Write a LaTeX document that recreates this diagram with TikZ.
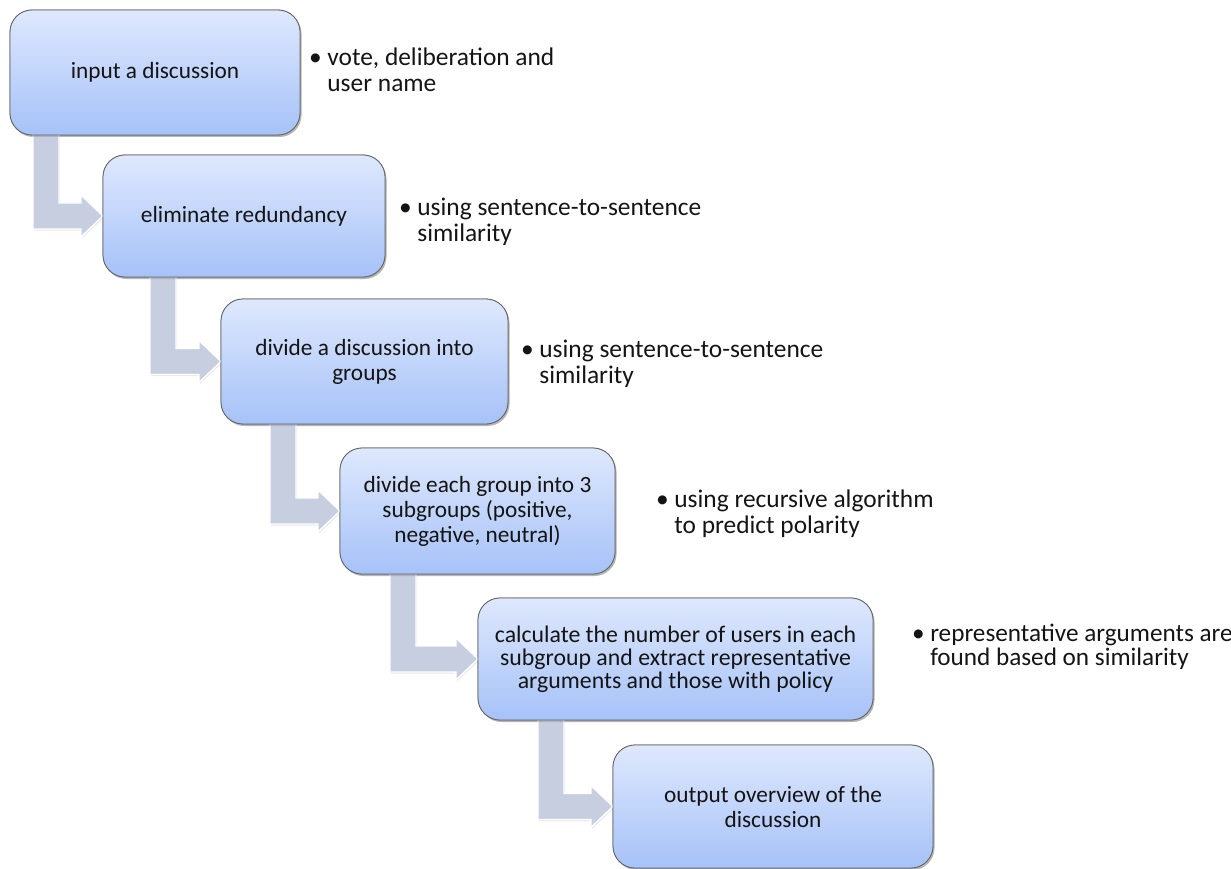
\documentclass[tikz,border=0pt]{standalone}
\usepackage{fontspec}
\setmainfont{Carlito}
\usetikzlibrary{calc,shadows}

\definecolor{boxtop}{RGB}{222,232,253}
\definecolor{boxbottom}{RGB}{166,194,248}
\definecolor{boxline}{RGB}{100,100,100}
\definecolor{arrowgray}{RGB}{198,206,224}
\definecolor{inktext}{RGB}{20,20,20}

\tikzset{
  stepbox/.style={rounded corners=22pt, draw=boxline, line width=0.8pt,
    top color=boxtop, bottom color=boxbottom, align=center,
    inner sep=4pt, outer sep=0pt, text=inktext,
    font=\fontsize{23.3}{25}\selectfont,
    drop shadow={opacity=0.35, shadow xshift=1.5pt, shadow yshift=-2pt}},
  smallbox/.style={stepbox, font=\fontsize{23.8}{23}\selectfont},
  bulletnote/.style={align=left, inner sep=0pt, outer sep=0pt, text=inktext,
    anchor=base west, font=\fontsize{25.4}{26}\selectfont},
  smallnote/.style={bulletnote, font=\fontsize{25.2}{23.5}\selectfont},
  bentarrow/.style={fill=arrowgray, draw=white, line width=1.4pt,
    drop shadow={opacity=0.18, shadow xshift=1pt, shadow yshift=-1.5pt}},
}

% bent arrow from the bottom of box #1 into the left side of box #2;
% #3 is the distance of the shaft's left edge from the left side of #1
\newcommand\flowarrow[3]{%
  \path[bentarrow] let \p1=(#1.south west), \p2=(#2.west) in
    (\x1+#3, \y1+10pt) -- (\x1+#3, \y2-13pt) -- (\x2-22pt, \y2-13pt)
    -- (\x2-22pt, \y2-21pt) -- (\x2, \y2) -- (\x2-22pt, \y2+21pt)
    -- (\x2-22pt, \y2+13pt) -- (\x1+#3+26pt, \y2+13pt)
    -- (\x1+#3+26pt, \y1+10pt) -- cycle;}

\begin{document}
\begin{tikzpicture}[x=1pt, y=-1pt]
\useasboundingbox (0,0) rectangle (1231,869);

% process steps (placed first so the arrows can refer to them)
\path
  (155,72.5)  node[stepbox, minimum width=290pt, minimum height=125pt] (b1) {}
  (244,216)   node[stepbox, minimum width=282pt, minimum height=122pt] (b2) {}
  (364.5,361.5) node[stepbox, minimum width=287pt, minimum height=125pt] (b3) {}
  (477.5,511) node[stepbox, minimum width=275pt, minimum height=126pt] (b4) {}
  (675.5,659) node[stepbox, minimum width=395pt, minimum height=122pt] (b5) {}
  (773,806.5) node[stepbox, minimum width=320pt, minimum height=123pt] (b6) {};

% connectors between consecutive steps
\flowarrow{b1}{b2}{23pt}
\flowarrow{b2}{b3}{47pt}
\flowarrow{b3}{b4}{49pt}
\flowarrow{b4}{b5}{50pt}
\flowarrow{b5}{b6}{60pt}

% boxes drawn again on top of the arrow shafts
\node[stepbox, minimum width=290pt, minimum height=125pt] (s1) at (b1) {input a discussion};
\node[stepbox, minimum width=282pt, minimum height=122pt] (s2) at (b2) {eliminate redundancy};
\node[stepbox, minimum width=287pt, minimum height=125pt] (s3) at (b3) {divide a discussion into\\groups};
\node[stepbox, minimum width=275pt, minimum height=126pt] (s4) at (b4) {divide each group into 3\\subgroups (positive,\\negative, neutral)};
\node[smallbox, minimum width=395pt, minimum height=122pt] (s5) at (b5) {calculate the number of users in each\\subgroup and extract representative\\arguments and those with policy};
\node[stepbox, minimum width=320pt, minimum height=123pt] (s6) at (b6) {output overview of the\\discussion};

% side notes (anchored at the baseline of their last line)
\node[bulletnote] (n1) at (309,92)  {\textbullet\ vote, deliberation and\\\phantom{\textbullet\ }user name};
\node[bulletnote] (n2) at (399,241) {\textbullet\ using sentence-to-sentence\\\phantom{\textbullet\ }similarity};
\node[bulletnote] (n3) at (521,383) {\textbullet\ using sentence-to-sentence\\\phantom{\textbullet\ }similarity};
\node[bulletnote] (n4) at (656,533) {\textbullet\ using recursive algorithm\\\phantom{\textbullet\ }to predict polarity};
\node[smallnote]  (n5) at (912,665) {\textbullet\ representative arguments are\\\phantom{\textbullet\ }found based on similarity};
\end{tikzpicture}
\end{document}
